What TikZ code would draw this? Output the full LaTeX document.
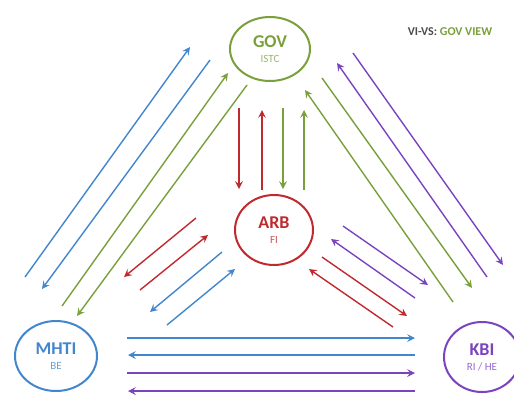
\documentclass[tikz,border=0pt]{standalone}
\usepackage{fontspec}
\setmainfont{Carlito}
\usepackage{tikz}
\usetikzlibrary{arrows,shapes}

\definecolor{govgreen}{RGB}{122,160,60}
\definecolor{mhtiblue}{RGB}{66,134,206}
\definecolor{arbred}{RGB}{192,42,46}
\definecolor{kbipurple}{RGB}{122,68,192}

\newcommand{\sublabel}[1]{\\[-1.5pt]{\fontsize{5.5}{5.5}\selectfont\mdseries #1}}

\begin{document}
\begin{tikzpicture}[x=0.5pt,y=-0.5pt]
        \tikzstyle{actor}=[ellipse, line width=1pt, fill=white, inner sep=0pt, align=center,
          font=\fontsize{9}{9}\selectfont\bfseries]
        \tikzstyle{flow}=[line width=0.7pt, -stealth]
        \useasboundingbox (0,0) rectangle (514,398);
        \begin{scope}
          \node [actor, draw=govgreen, text=govgreen, minimum width=40pt, minimum height=32pt] (gov) at (270,49)
            {GOV\sublabel{\color{govgreen!75}ISTC}};
          \node [actor, draw=arbred, text=arbred, minimum width=39pt, minimum height=35pt] (arb) at (274,230)
            {ARB\sublabel{\color{arbred!80}FI}};
          \node [actor, draw=mhtiblue, text=mhtiblue, minimum width=41pt, minimum height=35pt] (mhti) at (56,356)
            {MHTI\sublabel{\color{mhtiblue!80}BE}};
          \node [actor, draw=kbipurple, text=kbipurple, minimum width=38pt, minimum height=35pt] (kbi) at (482,357)
            {KBI\sublabel{\color{kbipurple!80}RI / HE}};
          \node (title) at (450,32) {\fontsize{6}{6}\selectfont\bfseries\color{black!70}VI-VS: \color{govgreen}GOV VIEW};
        \end{scope}
        % GOV <-> MHTI
        \draw [flow, mhtiblue] ([shift={(-31,-79)}]mhti.center) -- ([shift={(-80,-2)}]gov.center);
        \draw [flow, mhtiblue] ([shift={(-60,11)}]gov.center) -- ([shift={(-14,-67)}]mhti.center);
        \draw [flow, govgreen] ([shift={(6,-50)}]mhti.center) -- ([shift={(-42,24)}]gov.center);
        \draw [flow, govgreen] ([shift={(-23,36)}]gov.center) -- ([shift={(21,-40)}]mhti.center);
        % GOV <-> ARB
        \draw [flow, arbred] ([shift={(-31,59)}]gov.center) -- ([shift={(-35,-41)}]arb.center);
        \draw [flow, arbred] ([shift={(-12,-40)}]arb.center) -- ([shift={(-8,61)}]gov.center);
        \draw [flow, govgreen] ([shift={(13,59)}]gov.center) -- ([shift={(9,-41)}]arb.center);
        \draw [flow, govgreen] ([shift={(30,-40)}]arb.center) -- ([shift={(34,61)}]gov.center);
        % ARB <-> MHTI
        \draw [flow, arbred] ([shift={(-78,-12)}]arb.center) -- ([shift={(68,-79)}]mhti.center);
        \draw [flow, arbred] ([shift={(84,-66)}]mhti.center) -- ([shift={(-66,5)}]arb.center);
        \draw [flow, mhtiblue] ([shift={(-52,22)}]arb.center) -- ([shift={(94,-44)}]mhti.center);
        \draw [flow, mhtiblue] ([shift={(111,-31)}]mhti.center) -- ([shift={(-39,39)}]arb.center);
        % GOV <-> KBI
        \draw [flow, govgreen] ([shift={(-29,-55)}]kbi.center) -- ([shift={(35,41)}]gov.center);
        \draw [flow, govgreen] ([shift={(52,29)}]gov.center) -- ([shift={(-10,-69)}]kbi.center);
        \draw [flow, kbipurple] ([shift={(5,-80)}]kbi.center) -- ([shift={(67,14)}]gov.center);
        \draw [flow, kbipurple] ([shift={(83,4)}]gov.center) -- ([shift={(21,-92)}]kbi.center);
        % ARB <-> KBI
        \draw [flow, kbipurple] ([shift={(69,-4)}]arb.center) -- ([shift={(-54,-72)}]kbi.center);
        \draw [flow, kbipurple] ([shift={(-67,-59)}]kbi.center) -- ([shift={(57,9)}]arb.center);
        \draw [flow, arbred] ([shift={(48,27)}]arb.center) -- ([shift={(-75,-41)}]kbi.center);
        \draw [flow, arbred] ([shift={(-89,-30)}]kbi.center) -- ([shift={(35,39)}]arb.center);
        % MHTI <-> KBI
        \draw [flow, mhtiblue] ([shift={(71,-18)}]mhti.center) -- ([shift={(-67,-19)}]kbi.center);
        \draw [flow, mhtiblue] ([shift={(-67,-2)}]kbi.center) -- ([shift={(72,-1)}]mhti.center);
        \draw [flow, kbipurple] ([shift={(71,17)}]mhti.center) -- ([shift={(-67,16)}]kbi.center);
        \draw [flow, kbipurple] ([shift={(-67,34)}]kbi.center) -- ([shift={(72,35)}]mhti.center);
      \end{tikzpicture}
\end{document}
